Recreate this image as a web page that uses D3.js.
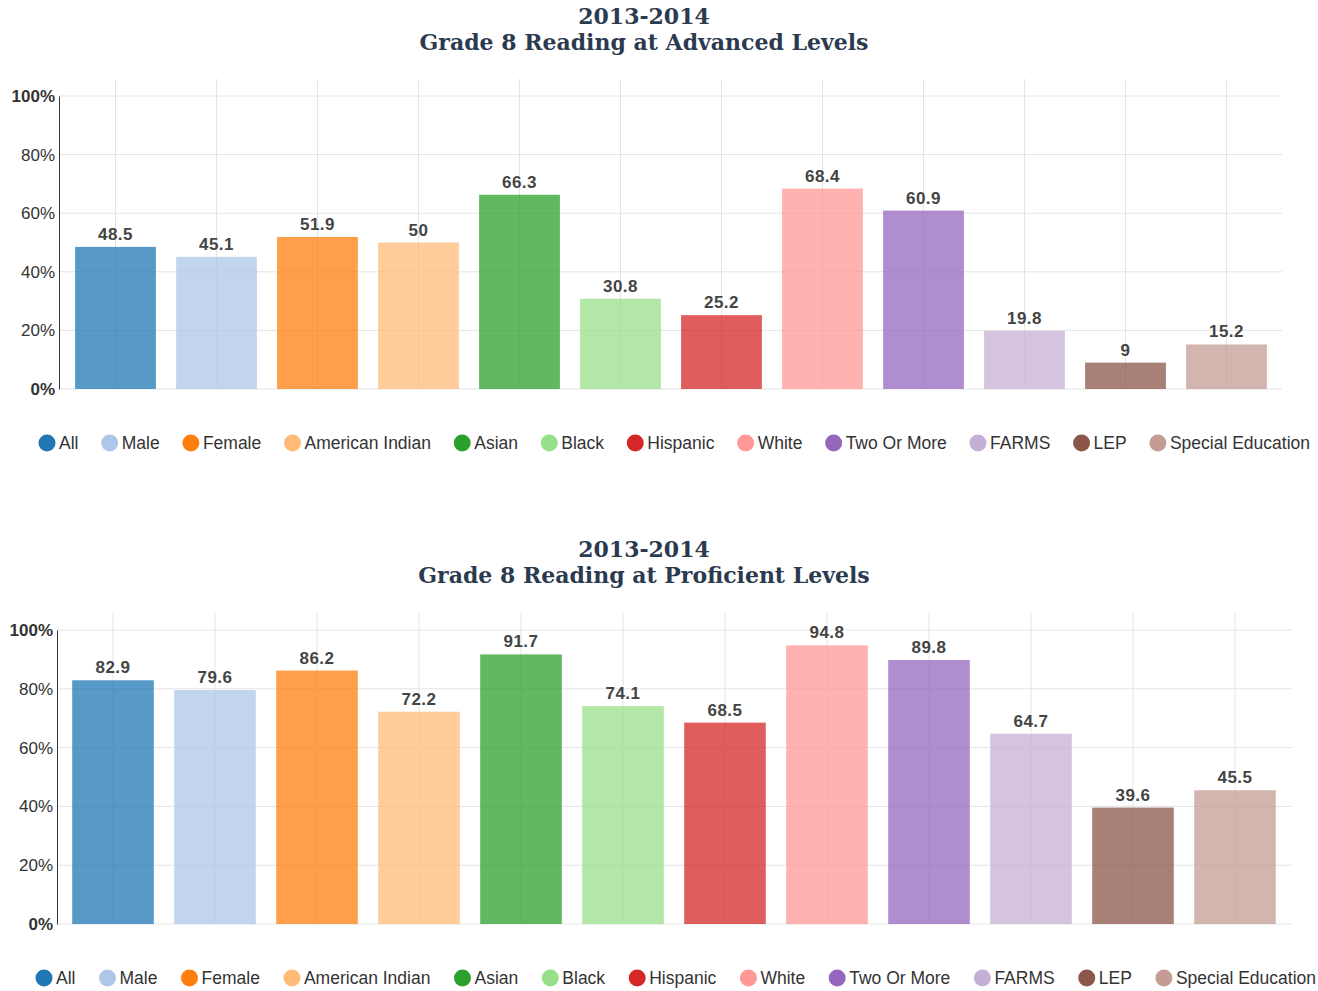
<!DOCTYPE html>
<html>
<head>
<meta charset="utf-8">
<script src="https://cdn.jsdelivr.net/npm/d3@7"></script>
<style>
  body { margin: 0; background: #fff; }
  text { font-family: "Liberation Sans", Arial, sans-serif; }
  .title { font-family: "DejaVu Serif", Georgia, serif; font-weight: bold; fill: #2b3a4e; }
</style>
</head>
<body>
<div id="chart"></div>
<script>
var categories = ["All", "Male", "Female", "American Indian", "Asian", "Black",
  "Hispanic", "White", "Two Or More", "FARMS", "LEP", "Special Education"];
var advancedValues = [48.5, 45.1, 51.9, 50, 66.3, 30.8, 25.2, 68.4, 60.9, 19.8, 9, 15.2];
var proficientValues = [82.9, 79.6, 86.2, 72.2, 91.7, 74.1, 68.5, 94.8, 89.8, 64.7, 39.6, 45.5];
var yTicks = [0, 20, 40, 60, 80, 100];
var colors = ["#1f77b4", "#aec7e8", "#ff7f0e", "#ffbb78", "#2ca02c", "#98df8a",
  "#d62728", "#ff9896", "#9467bd", "#c5b0d5", "#8c564b", "#c49c94"];

var svg = d3.select("#chart").append("svg")
  .attr("width", 1318)
  .attr("height", 991);

var color = d3.scaleOrdinal().domain(categories).range(colors);

// one chart block: title, bars, axis, legend
function drawChart(cfg) {
  var g = svg.append("g");

  g.append("text").attr("class", "title")
    .attr("x", 644).attr("y", cfg.titleY)
    .attr("text-anchor", "middle").style("font-size", "22px")
    .text("2013-2014");
  g.append("text").attr("class", "title")
    .attr("x", 644).attr("y", cfg.titleY + 26)
    .attr("text-anchor", "middle").style("font-size", "22px")
    .text(cfg.title);

  var x = d3.scaleBand().domain(categories)
    .range([cfg.bandLeft, cfg.bandRight]).paddingInner(0.2).paddingOuter(0.1);
  var y = d3.scaleLinear().domain([0, 100]).range([cfg.bottom, cfg.top]);

  // horizontal grid
  g.selectAll("line.hgrid").data(yTicks).enter().append("line")
    .attr("class", "hgrid")
    .attr("x1", cfg.left).attr("x2", cfg.right)
    .attr("y1", function(d) { return y(d); })
    .attr("y2", function(d) { return y(d); })
    .attr("stroke", "#e4e4e4");

  // vertical grid at bar centers
  g.selectAll("line.vgrid").data(categories).enter().append("line")
    .attr("class", "vgrid")
    .attr("x1", function(d) { return x(d) + x.bandwidth() / 2; })
    .attr("x2", function(d) { return x(d) + x.bandwidth() / 2; })
    .attr("y1", cfg.top - 17).attr("y2", cfg.bottom)
    .attr("stroke", "#e4e4e4");

  var data = categories.map(function(c, i) { return {name: c, value: cfg.values[i]}; });

  g.selectAll("rect.bar").data(data).enter().append("rect")
    .attr("class", "bar")
    .attr("x", function(d) { return x(d.name); })
    .attr("width", x.bandwidth())
    .attr("y", function(d) { return y(d.value); })
    .attr("height", function(d) { return cfg.bottom - y(d.value); })
    .attr("fill", function(d) { return color(d.name); })
    .attr("fill-opacity", 0.75);

  g.selectAll("text.val").data(data).enter().append("text")
    .attr("class", "val")
    .attr("x", function(d) { return x(d.name) + x.bandwidth() / 2; })
    .attr("y", function(d) { return y(d.value) - 7; })
    .attr("text-anchor", "middle")
    .style("font-size", "17px").style("font-weight", "bold")
    .style("letter-spacing", "0.5px")
    .attr("fill", "#444")
    .text(function(d) { return d.value; });

  // y axis
  var axis = g.append("g")
    .attr("transform", "translate(" + cfg.left + ",0)")
    .call(d3.axisLeft(y).tickValues(yTicks).tickSize(0).tickPadding(4)
      .tickFormat(function(d) { return d + "%"; }));
  axis.select(".domain").attr("stroke", "#333");
  axis.selectAll(".tick text")
    .style("font-size", "17px")
    .style("font-family", "'Liberation Sans', Arial, sans-serif")
    .attr("fill", "#333")
    .style("font-weight", function(d) { return d === 0 || d === 100 ? "bold" : "normal"; });

  // legend
  var leg = g.append("g").attr("transform", "translate(0," + cfg.legendY + ")");
  var items = leg.selectAll("g.item").data(categories).enter().append("g").attr("class", "item");
  items.append("circle").attr("r", 8.5).attr("cx", 0).attr("cy", 0)
    .attr("fill", function(d) { return color(d); });
  items.append("text").attr("x", 12).attr("dy", "0.35em")
    .style("font-size", "17.5px").attr("fill", "#333")
    .text(function(d) { return d; });

  var widths = [];
  items.each(function() {
    widths.push(20 + d3.select(this).select("text").node().getComputedTextLength());
  });
  var total = d3.sum(widths);
  var gap = (cfg.legendRight - cfg.legendLeft - total) / (categories.length - 1);
  var pos = cfg.legendLeft + 8;
  items.attr("transform", function(d, i) {
    var p = pos;
    pos += widths[i] + gap;
    return "translate(" + p + ",0)";
  });
}

drawChart({
  title: "Grade 8 Reading at Advanced Levels",
  titleY: 24, values: advancedValues,
  left: 59, right: 1282, top: 96, bottom: 389,
  bandLeft: 65, bandRight: 1277,
  legendY: 443, legendLeft: 39, legendRight: 1310
});

drawChart({
  title: "Grade 8 Reading at Proficient Levels",
  titleY: 557, values: proficientValues,
  left: 57, right: 1292, top: 630, bottom: 924,
  bandLeft: 62, bandRight: 1286,
  legendY: 978, legendLeft: 36, legendRight: 1316
});
</script>
</body>
</html>
